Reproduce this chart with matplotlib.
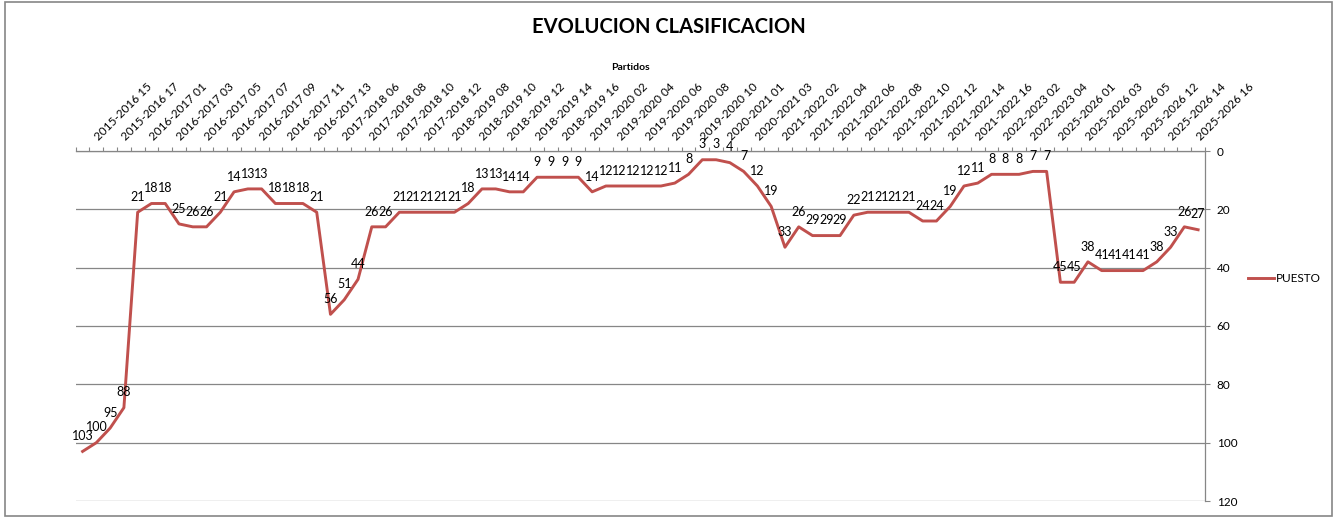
import matplotlib
matplotlib.use('Agg')
import matplotlib.pyplot as plt
import matplotlib.patches as patches
import numpy as np

plt.rcParams['font.family'] = ['Lato', 'DejaVu Sans']

# posicion en la clasificacion, un valor por partido (82 partidos)
puesto = [103, 100, 95, 88, 21, 18, 18, 25, 26, 26,
          21, 14, 13, 13, 18, 18, 18, 21, 56, 51,
          44, 26, 26, 21, 21, 21, 21, 21, 18, 13,
          13, 14, 14, 9, 9, 9, 9, 14, 12, 12,
          12, 12, 12, 11, 8, 3, 3, 4, 7, 12,
          19, 33, 26, 29, 29, 29, 22, 21, 21, 21,
          21, 24, 24, 19, 12, 11, 8, 8, 8, 7,
          7, 45, 45, 38, 41, 41, 41, 41, 38, 33,
          26, 27]

# etiquetas visibles del eje (una de cada dos, desde el segundo partido)
partidos = ['2015-2016 15', '2015-2016 17', '2016-2017 01', '2016-2017 03',
            '2016-2017 05', '2016-2017 07', '2016-2017 09', '2016-2017 11',
            '2016-2017 13', '2017-2018 06', '2017-2018 08', '2017-2018 10',
            '2017-2018 12', '2018-2019 08', '2018-2019 10', '2018-2019 12',
            '2018-2019 14', '2018-2019 16', '2019-2020 02', '2019-2020 04',
            '2019-2020 06', '2019-2020 08', '2019-2020 10', '2020-2021 01',
            '2020-2021 03', '2021-2022 02', '2021-2022 04', '2021-2022 06',
            '2021-2022 08', '2021-2022 10', '2021-2022 12', '2021-2022 14',
            '2021-2022 16', '2022-2023 02', '2022-2023 04', '2025-2026 01',
            '2025-2026 03', '2025-2026 05', '2025-2026 12', '2025-2026 14',
            '2025-2026 16']

W, H = 1338, 517
ROJO = '#C0504D'
GRIS = '#868686'

fig = plt.figure(figsize=(W / 100, H / 100), dpi=100)
ax = fig.add_axes([75.7 / W, 1 - 501 / H, (1205 - 75.7) / W, (501 - 151) / H])

x = np.arange(len(puesto))
ax.plot(x, puesto, color=ROJO, linewidth=2.1, solid_joinstyle='round', label='PUESTO', zorder=3)
for xi, v in zip(x, puesto):
    ax.annotate(str(v), (xi, v), xytext=(0, 11), textcoords='offset points',
                ha='center', va='center', fontsize=9, color='black', zorder=4)

ax.set_xlim(-0.5, len(puesto) - 0.5)
ax.set_ylim(120, 0)

# eje x arriba
ax.xaxis.tick_top()
ax.set_xticks(x[1::2])
ax.set_xticklabels(partidos, rotation=45, ha='left', va='center', rotation_mode='anchor', fontsize=8.5)
ax.set_xticks(np.arange(-0.5, len(puesto), 1), minor=True)
ax.tick_params(axis='x', which='major', length=0, pad=9)
ax.tick_params(axis='x', which='minor', top=True, bottom=False, length=3, width=0.8, color=GRIS, direction='out')

# eje y a la derecha
ax.yaxis.tick_right()
ax.set_yticks(np.arange(0, 121, 20))
ax.tick_params(axis='y', which='major', length=3.5, width=0.8, color=GRIS, pad=5, labelsize=8.5)
ax.grid(axis='y', color=GRIS, linewidth=0.9)
ax.set_axisbelow(True)

for s in ['left', 'bottom']:
    ax.spines[s].set_visible(False)
for s in ['top', 'right']:
    ax.spines[s].set_color(GRIS)
    ax.spines[s].set_linewidth(0.9)

fig.legend(loc='center left', bbox_to_anchor=(1248 / W, 1 - 279 / H), frameon=False,
           fontsize=8.5, handlelength=2.2, handletextpad=0.2, borderpad=0, borderaxespad=0)

fig.text(669 / W, 1 - 27 / H, 'EVOLUCION CLASIFICACION', ha='center', va='center',
         fontsize=14.5, fontweight='bold')
fig.text(630.5 / W, 1 - 67 / H, 'Partidos', ha='center', va='center',
         fontsize=7.5, fontweight='bold')

# borde del grafico
fig.patches.append(patches.Rectangle((5 / W, 1 / H), 1327 / W, 514 / H, transform=fig.transFigure,
                                     fill=False, edgecolor=GRIS, linewidth=1.2))

plt.savefig('out.png', dpi=100)
